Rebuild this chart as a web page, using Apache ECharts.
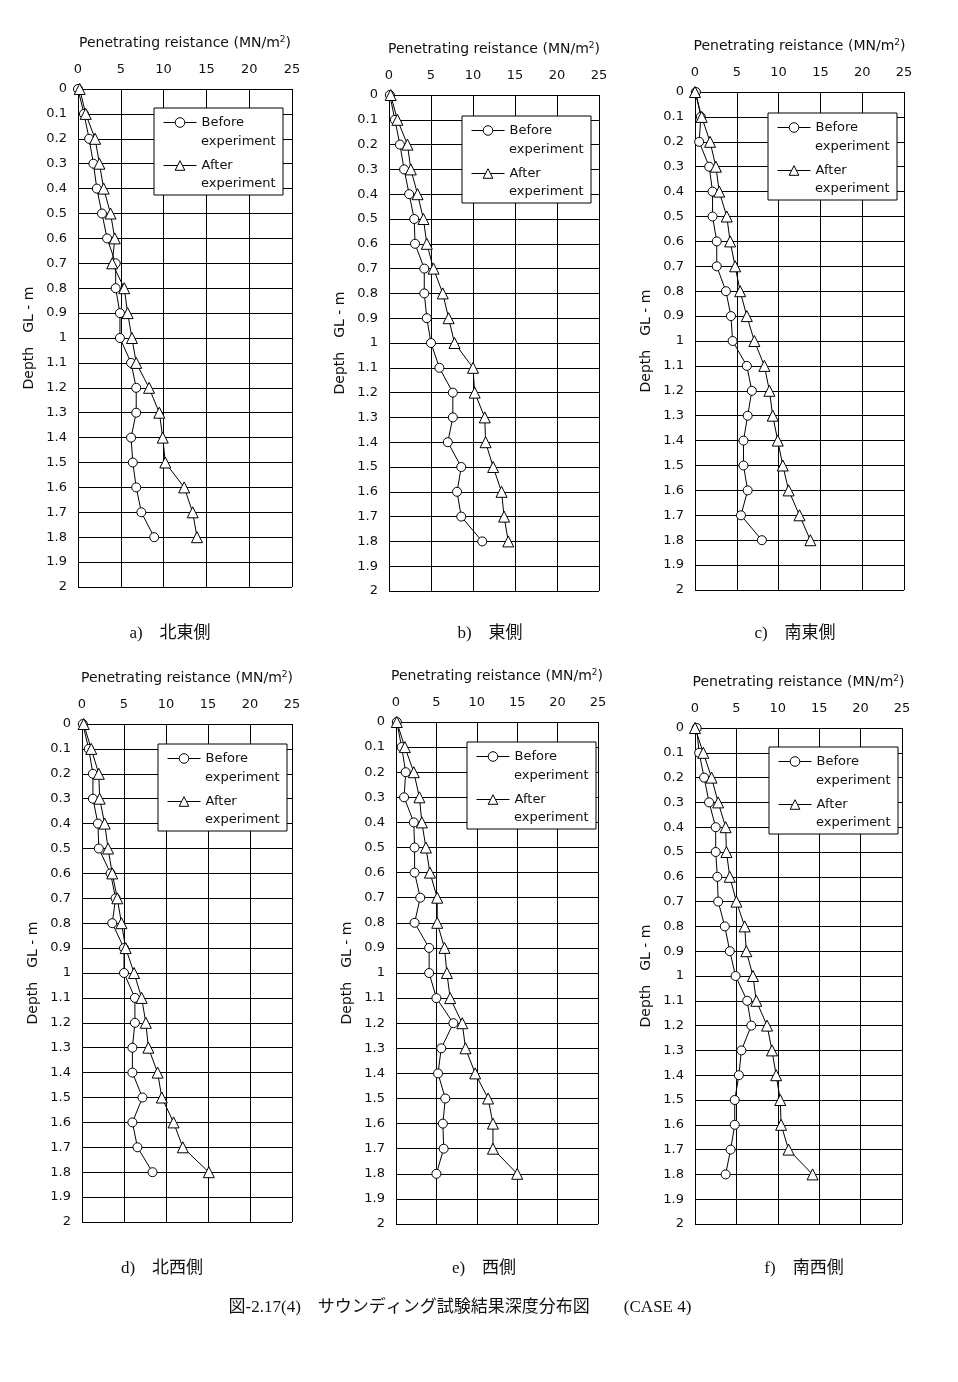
<!DOCTYPE html>
<html>
<head>
<meta charset="utf-8">
<script src="https://cdn.jsdelivr.net/npm/echarts@6/dist/echarts.min.js"></script>
<style>html,body{margin:0;padding:0;background:#fff}#c{width:958px;height:1382px}</style>
</head>
<body>
<div id="c"></div>
<script>
// ---- data ----
const depths = [0, 0.1, 0.2, 0.3, 0.4, 0.5, 0.6, 0.7, 0.8, 0.9, 1.0, 1.1, 1.2, 1.3, 1.4, 1.5, 1.6, 1.7, 1.8];
const xTicks = [0, 5, 10, 15, 20, 25];
const seriesNames = ['Before experiment', 'After experiment'];
const captions = ['a)\u3000北東側', 'b)\u3000東側', 'c)\u3000南東側', 'd)\u3000北西側', 'e)\u3000西側', 'f)\u3000南西側'];
const figureTitle = '図-2.17(4)\u3000サウンディング試験結果深度分布図\u3000\u3000(CASE 4)';
const xAxisTitle = 'Penetrating reistance (MN/m{sup|2})';
const yAxisTitle = 'Depth\u3000GL - m';

const beforeA = [0, 0.7, 1.3, 1.8, 2.2, 2.8, 3.4, 4.4, 4.4, 4.9, 4.9, 6.2, 6.8, 6.8, 6.2, 6.4, 6.8, 7.4, 8.9];
const afterA  = [0.2, 0.9, 2.0, 2.5, 3.0, 3.8, 4.3, 4.0, 5.4, 5.8, 6.3, 6.8, 8.3, 9.5, 9.9, 10.2, 12.4, 13.4, 13.9];
const beforeB = [0.1, 0.7, 1.3, 1.8, 2.4, 3.0, 3.1, 4.2, 4.2, 4.5, 5.0, 6.0, 7.6, 7.6, 7.0, 8.6, 8.1, 8.6, 11.1];
const afterB  = [0.2, 1.0, 2.2, 2.6, 3.4, 4.1, 4.5, 5.3, 6.4, 7.1, 7.8, 10.0, 10.2, 11.4, 11.5, 12.4, 13.4, 13.7, 14.2];
const beforeC = [0.1, 0.7, 0.5, 1.7, 2.1, 2.1, 2.6, 2.6, 3.7, 4.3, 4.5, 6.2, 6.8, 6.3, 5.8, 5.8, 6.3, 5.5, 8.0];
const afterC  = [0, 0.8, 1.8, 2.5, 2.9, 3.8, 4.2, 4.8, 5.4, 6.2, 7.1, 8.3, 8.9, 9.3, 9.9, 10.5, 11.2, 12.5, 13.8];
const beforeD = [0.1, 0.8, 1.3, 1.3, 1.9, 2.0, 3.4, 4.0, 3.6, 5.0, 5.0, 6.3, 6.3, 6.0, 6.0, 7.2, 6.0, 6.6, 8.4];
const afterD  = [0.2, 1.1, 2.0, 2.1, 2.7, 3.1, 3.6, 4.2, 4.7, 5.2, 6.2, 7.1, 7.6, 7.9, 9.0, 9.5, 10.9, 12.0, 15.1];
const beforeE = [0.1, 0.7, 1.2, 1.0, 2.2, 2.3, 2.3, 3.0, 2.3, 4.1, 4.1, 5.0, 7.1, 5.6, 5.2, 6.1, 5.8, 5.9, 5.0];
const afterE  = [0.1, 1.1, 2.2, 2.9, 3.2, 3.7, 4.2, 5.1, 5.1, 6.0, 6.3, 6.7, 8.2, 8.6, 9.8, 11.4, 12.0, 12.0, 15.0];
const beforeF = [0.2, 0.5, 1.1, 1.7, 2.5, 2.5, 2.7, 2.8, 3.6, 4.2, 4.9, 6.3, 6.8, 5.6, 5.3, 4.8, 4.8, 4.3, 3.7];
const afterF  = [0, 1.0, 2.0, 2.8, 3.7, 3.8, 4.2, 5.0, 6.0, 6.2, 7.0, 7.4, 8.7, 9.3, 9.8, 10.3, 10.4, 11.3, 14.2];

const panelData = [
  [beforeA, afterA], [beforeB, afterB], [beforeC, afterC],
  [beforeD, afterD], [beforeE, afterE], [beforeF, afterF]
];

// ---- layout (styling only) ----
const layout = [
  { grid: { left: 78,  top: 89,  width: 214, height: 498 }, leg: [154, 108], cap: [170, 634] },
  { grid: { left: 389, top: 95,  width: 210, height: 496 }, leg: [462, 116], cap: [490, 634] },
  { grid: { left: 695, top: 92,  width: 209, height: 498 }, leg: [768, 113], cap: [795, 634] },
  { grid: { left: 82,  top: 724, width: 210, height: 498 }, leg: [158, 744], cap: [162, 1269] },
  { grid: { left: 396, top: 722, width: 202, height: 502 }, leg: [467, 742], cap: [484, 1269] },
  { grid: { left: 695, top: 728, width: 207, height: 496 }, leg: [769, 747], cap: [804, 1269] }
];

const FONT = 'DejaVu Sans';
const CAPFONT = '"Liberation Serif", "Noto Sans CJK JP", serif';
const INK = '#111';

const grids = [], xAxes = [], yAxes = [], series = [], legends = [], graphics = [];

layout.forEach((L, i) => {
  grids.push(Object.assign({ containLabel: false }, L.grid));
  xAxes.push({
    type: 'value', gridIndex: i, position: 'top',
    min: xTicks[0], max: xTicks[xTicks.length - 1], interval: xTicks[1] - xTicks[0],
    name: xAxisTitle, nameLocation: 'middle', nameGap: 38,
    nameTextStyle: { fontFamily: FONT, fontSize: 14, color: INK,
      rich: { sup: { fontFamily: FONT, fontSize: 9, color: INK, verticalAlign: 'top', padding: [0, 0, 7, 0] } } },
    axisLine: { show: true, lineStyle: { color: '#000', width: 1 } },
    axisTick: { show: false },
    axisLabel: { fontFamily: FONT, fontSize: 13, color: INK, margin: 13 },
    splitLine: { show: true, lineStyle: { color: '#000', width: 1 } }
  });
  yAxes.push({
    type: 'value', gridIndex: i, inverse: true,
    min: 0, max: 2, interval: 0.1,
    name: yAxisTitle, nameLocation: 'middle', nameGap: 42, nameRotate: 90,
    nameTextStyle: { fontFamily: FONT, fontSize: 14, color: INK },
    axisLine: { show: true, lineStyle: { color: '#000', width: 1 } },
    axisTick: { show: false },
    axisLabel: { fontFamily: FONT, fontSize: 13, color: INK, margin: 11 },
    splitLine: { show: true, lineStyle: { color: '#000', width: 1 } }
  });
  const [bef, aft] = panelData[i];
  series.push({
    name: seriesNames[0], type: 'line', xAxisIndex: i, yAxisIndex: i,
    data: bef.map((v, k) => [v, depths[k]]),
    symbol: 'circle', symbolSize: 9, showAllSymbol: true, clip: false,
    lineStyle: { color: '#000', width: 1 },
    itemStyle: { color: '#fff', borderColor: '#000', borderWidth: 1 },
    z: 3
  });
  series.push({
    name: seriesNames[1], type: 'line', xAxisIndex: i, yAxisIndex: i,
    data: aft.map((v, k) => [v, depths[k]]),
    symbol: 'triangle', symbolSize: 11, showAllSymbol: true, clip: false,
    lineStyle: { color: '#000', width: 1 },
    itemStyle: { color: '#fff', borderColor: '#000', borderWidth: 1 },
    z: 3
  });
  legends.push({
    orient: 'vertical', left: L.leg[0], top: L.leg[1],
    data: seriesNames.slice(),
    formatter: n => n.split(' ')[0],
    padding: [8, 39, 23, 9], itemGap: 30, itemWidth: 33, itemHeight: 12,
    backgroundColor: '#fff', borderColor: '#000', borderWidth: 1,
    selectedMode: false,
    lineStyle: { color: '#000', width: 1 },
    itemStyle: { color: '#fff', borderColor: '#000', borderWidth: 1 },
    textStyle: { fontFamily: FONT, fontSize: 13, color: INK }
  });
  // second line of each legend label
  [32, 74].forEach(dy => graphics.push({
    type: 'text', left: L.leg[0] + 47, top: L.leg[1] + dy - 5, z: 100,
    style: { text: seriesNames[0].split(' ')[1], font: '13px ' + FONT, fill: INK }
  }));
  graphics.push({
    type: 'text', x: L.cap[0], y: L.cap[1],
    style: { text: captions[i], font: '17px ' + CAPFONT, fill: INK, textAlign: 'center', textVerticalAlign: 'middle' }
  });
});

graphics.push({
  type: 'text', x: 460, y: 1308,
  style: { text: figureTitle, font: '17px ' + CAPFONT, fill: INK, textAlign: 'center', textVerticalAlign: 'middle' }
});

const chart = echarts.init(document.getElementById('c'), null, { renderer: 'canvas' });
chart.setOption({
  backgroundColor: '#fff',
  animation: false,
  grid: grids, xAxis: xAxes, yAxis: yAxes, series: series,
  legend: legends, graphic: graphics
});
</script>
</body>
</html>
